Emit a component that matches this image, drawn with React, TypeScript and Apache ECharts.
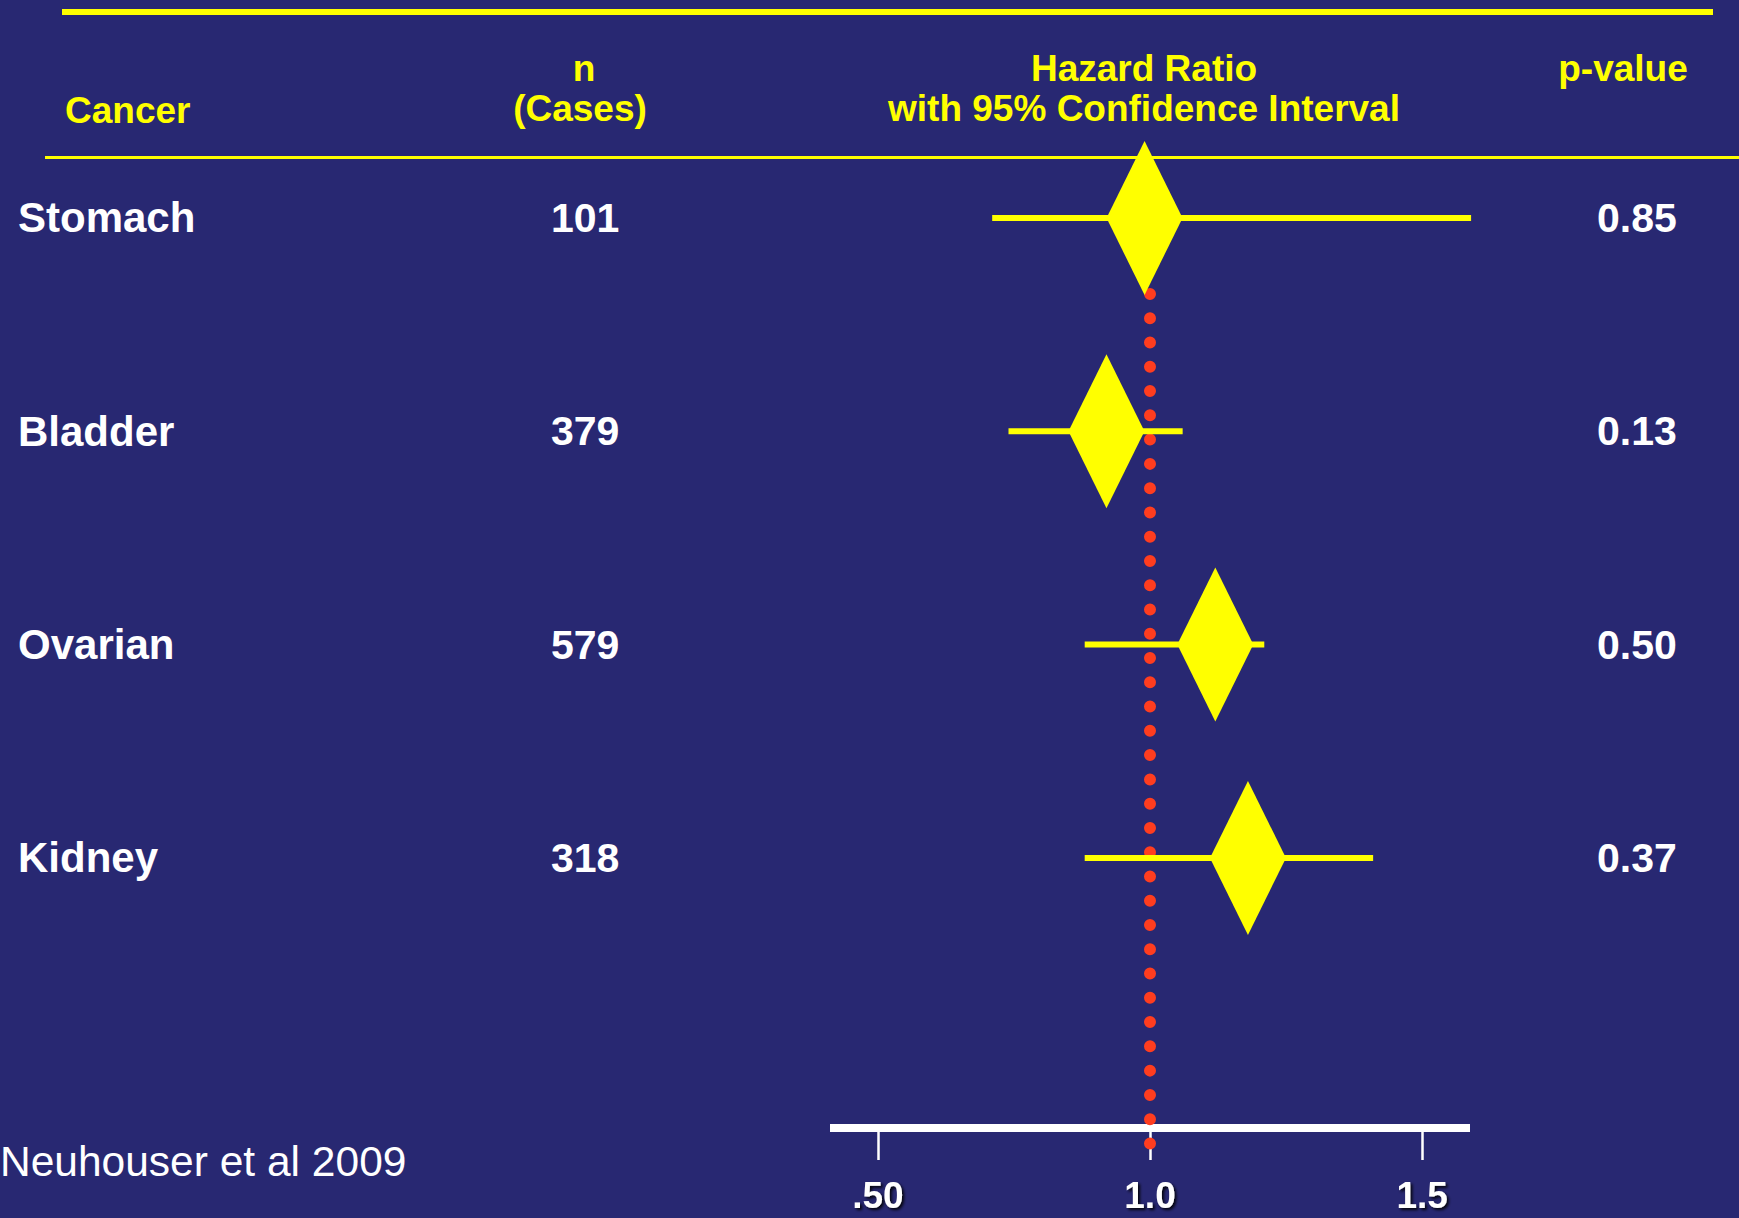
import React, { useEffect, useRef } from 'react';
import * as echarts from 'echarts';

// ---- data ----
const CANCERS = ['Stomach', 'Bladder', 'Ovarian', 'Kidney'];
const CASES = [101, 379, 579, 318];
const HAZARD_RATIO = [0.99, 0.92, 1.12, 1.18];
const CI_LOWER = [0.71, 0.74, 0.88, 0.88];
const CI_UPPER = [1.59, 1.06, 1.21, 1.41];
const P_VALUES = ['0.85', '0.13', '0.50', '0.37'];
const TICK_VALUES = [0.5, 1.0, 1.5];
const TICK_LABELS = ['.50', '1.0', '1.5'];
const REFERENCE_HR = 1.0;
const HEADER_CANCER = 'Cancer';
const HEADER_N = ['n', '(Cases)'];
const HEADER_HR = ['Hazard Ratio', 'with 95% Confidence Interval'];
const HEADER_P = 'p-value';
const CITATION = 'Neuhouser et al 2009';

// ---- layout / style ----
const W = 1739;
const H = 1218;
const BG = '#282872';
const YELLOW = '#ffff00';
const RED = '#ff3d1f';
const FONT = '"Liberation Sans", Arial, Helvetica, sans-serif';
const X_MIN = 0.412;
const X_MAX = 1.588;
const Y_MAX = 5.266;
const ROWS = CANCERS.map((_, i) => i + 1);

export default function App() {
  const ref = useRef<HTMLDivElement>(null);

  useEffect(() => {
    if (!ref.current) return;
    const chart = echarts.init(ref.current, undefined, { renderer: 'svg' });

    const baseY: any = {
      type: 'value',
      inverse: true,
      min: 0,
      max: Y_MAX,
      axisLine: { show: false },
      axisTick: { show: false },
      splitLine: { show: false },
    };
    const rowLabel = (extra: any) => ({
      customValues: ROWS,
      color: '#ffffff',
      fontSize: 41,
      fontWeight: 'bold',
      fontFamily: FONT,
      align: 'left',
      verticalAlign: 'middle',
      padding: [8, 0, 0, 0],
      ...extra,
    });

    const option: any = {
      animation: false,
      backgroundColor: BG,
      grid: {
        left: 830,
        right: W - 1470,
        top: 4.67,
        bottom: H - 1128,
        containLabel: false,
        outerBoundsMode: 'none',
      },
      xAxis: {
        type: 'value',
        min: X_MIN,
        max: X_MAX,
        position: 'bottom',
        axisLine: { show: true, onZero: false, lineStyle: { color: '#ffffff', width: 8, cap: 'butt' } },
        axisTick: {
          show: true,
          customValues: TICK_VALUES,
          length: 32,
          lineStyle: { color: '#ffffff', width: 2.5 },
        },
        axisLabel: {
          customValues: TICK_VALUES,
          formatter: (v: number) => {
            const i = TICK_VALUES.findIndex((t) => Math.abs(t - v) < 1e-6);
            return i >= 0 ? TICK_LABELS[i] : '';
          },
          margin: 49,
          color: '#ffffff',
          fontSize: 37,
          fontWeight: 'bold',
          fontFamily: FONT,
          textShadowColor: 'rgba(0,0,0,0.9)',
          textShadowBlur: 3,
          textShadowOffsetX: 2,
          textShadowOffsetY: 2,
        },
        splitLine: { show: false },
      },
      yAxis: [
        {
          ...baseY,
          position: 'left',
          axisLabel: rowLabel({
            formatter: (v: number) => CANCERS[Math.round(v) - 1] ?? '',
            margin: 830 - 18,
            fontSize: 42,
          }),
        },
        {
          ...baseY,
          position: 'left',
          axisLabel: rowLabel({
            formatter: (v: number) => String(CASES[Math.round(v) - 1] ?? ''),
            margin: 830 - 551,
          }),
        },
        {
          ...baseY,
          position: 'right',
          axisLabel: rowLabel({
            formatter: (v: number) => P_VALUES[Math.round(v) - 1] ?? '',
            margin: 1597 - 1470,
          }),
        },
      ],
      series: [
        {
          type: 'custom',
          name: 'reference',
          xAxisIndex: 0,
          yAxisIndex: 0,
          clip: false,
          z: 2,
          data: [[REFERENCE_HR, 1]],
          encode: { x: 0, y: 1 },
          renderItem: (params: any, api: any) => {
            const p = api.coord([api.value(0), api.value(1)]);
            const cs = params.coordSys;
            return {
              type: 'line',
              shape: { x1: p[0], y1: p[1] + 76, x2: p[0], y2: cs.y + cs.height + 15.5 },
              style: {
                stroke: RED,
                lineWidth: 12,
                lineDash: [0, 24.27],
                lineCap: 'round',
              },
            };
          },
        },
        {
          type: 'custom',
          name: 'hazard',
          xAxisIndex: 0,
          yAxisIndex: 0,
          clip: false,
          z: 3,
          data: CANCERS.map((_, i) => [HAZARD_RATIO[i], CI_LOWER[i], CI_UPPER[i], ROWS[i]]),
          encode: { x: [0, 1, 2], y: 3 },
          renderItem: (_params: any, api: any) => {
            const row = api.value(3);
            const c = api.coord([api.value(0), row]);
            const lo = api.coord([api.value(1), row]);
            const hi = api.coord([api.value(2), row]);
            const hw = 38;
            const hh = 77;
            return {
              type: 'group',
              children: [
                {
                  type: 'line',
                  shape: { x1: lo[0], y1: lo[1], x2: hi[0], y2: hi[1] },
                  style: { stroke: YELLOW, lineWidth: 6 },
                },
                {
                  type: 'polygon',
                  shape: {
                    points: [
                      [c[0], c[1] - hh],
                      [c[0] + hw, c[1]],
                      [c[0], c[1] + hh],
                      [c[0] - hw, c[1]],
                    ],
                  },
                  style: { fill: YELLOW },
                },
              ],
            };
          },
        },
      ],
      graphic: [
        {
          type: 'line',
          shape: { x1: 62, y1: 12, x2: 1713, y2: 12 },
          style: { stroke: YELLOW, lineWidth: 6 },
        },
        {
          type: 'line',
          shape: { x1: 45, y1: 157.5, x2: W, y2: 157.5 },
          style: { stroke: YELLOW, lineWidth: 3 },
        },
        {
          type: 'text',
          x: 65,
          y: 110,
          style: { text: HEADER_CANCER, fill: YELLOW, fontSize: 37, fontWeight: 'bold', fontFamily: FONT, align: 'left', verticalAlign: 'middle' },
        },
        {
          type: 'text',
          x: 584,
          y: 68,
          style: { text: HEADER_N[0], fill: YELLOW, fontSize: 37, fontWeight: 'bold', fontFamily: FONT, align: 'center', verticalAlign: 'middle' },
        },
        {
          type: 'text',
          x: 580,
          y: 108,
          style: { text: HEADER_N[1], fill: YELLOW, fontSize: 37, fontWeight: 'bold', fontFamily: FONT, align: 'center', verticalAlign: 'middle' },
        },
        {
          type: 'text',
          x: 1144,
          y: 68,
          style: { text: HEADER_HR[0], fill: YELLOW, fontSize: 37, fontWeight: 'bold', fontFamily: FONT, align: 'center', verticalAlign: 'middle' },
        },
        {
          type: 'text',
          x: 1144,
          y: 108,
          style: { text: HEADER_HR[1], fill: YELLOW, fontSize: 37, fontWeight: 'bold', fontFamily: FONT, align: 'center', verticalAlign: 'middle' },
        },
        {
          type: 'text',
          x: 1623,
          y: 68,
          style: { text: HEADER_P, fill: YELLOW, fontSize: 37, fontWeight: 'bold', fontFamily: FONT, align: 'center', verticalAlign: 'middle' },
        },
        {
          type: 'text',
          x: 0,
          y: 1161,
          style: { text: CITATION, fill: '#ffffff', fontSize: 42.5, fontFamily: FONT, align: 'left', verticalAlign: 'middle' },
        },
      ],
    };

    chart.setOption(option);
    return () => chart.dispose();
  }, []);

  return (
    <div
      ref={ref}
      style={{ position: 'fixed', left: 0, top: 0, width: W, height: H, background: BG }}
    />
  );
}
